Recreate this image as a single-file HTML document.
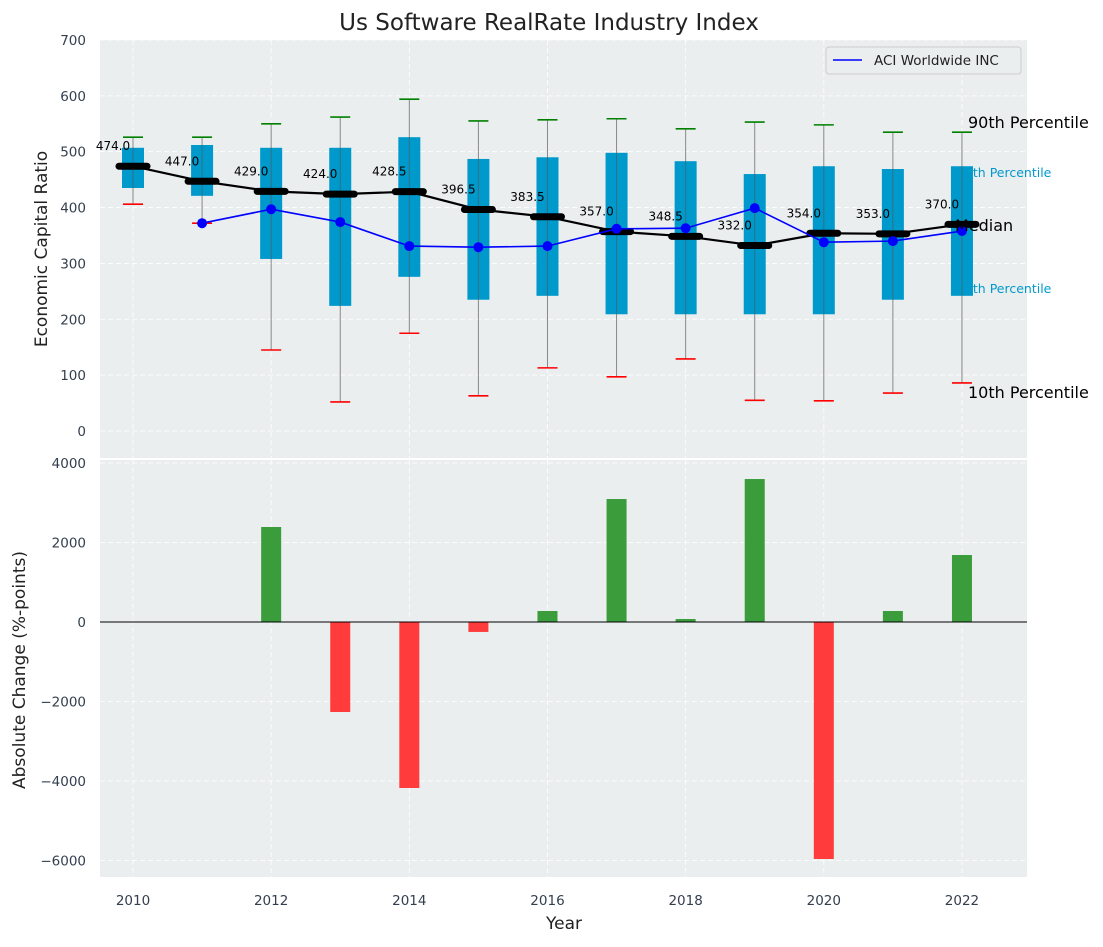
<!DOCTYPE html>
<html><head><meta charset="utf-8"><style>
body{margin:0;background:#fff;}
svg{font-family:"DejaVu Sans","Liberation Sans",sans-serif;}
</style></head><body>
<svg id="c" width="1103" height="942" xmlns="http://www.w3.org/2000/svg"></svg>
<script>
const years=[2010,2011,2012,2013,2014,2015,2016,2017,2018,2019,2020,2021,2022];
const p90=[526,526,550,562,594,555,557,559,541,553,548,535,535];
const q3=[507,512,507,507,526,487,490,498,483,460,474,469,474];
const medians=[474,447,429,424,428.5,396.5,383.5,357,348.5,332,354,353,370];
const q1=[435,421,308,224,276,235,242,209,209,209,209,235,242];
const p10=[406,372,145,52,175,63,113,97,129,55,54,68,86];
const aci=[null,372,397,374,331,329,331,362,363,399,338,340,358];
const changes=[0,0,2390,-2264,-4176,-250,277,3094,75,3597,-5962,277,1685];
const topTicks=[0,100,200,300,400,500,600,700];
const botTicks=[-6000,-4000,-2000,0,2000,4000];
const xTicks=[2010,2012,2014,2016,2018,2020,2022];

const NS="http://www.w3.org/2000/svg",svg=document.getElementById('c');
function el(t,a,p){const e=document.createElementNS(NS,t);for(const k in a)e.setAttribute(k,a[k]);(p||svg).appendChild(e);return e;}
const L=100,R=1027,T1=40,B1=458,T2=460,B2=877;
const x=v=>133+(v-2010)*69.08;
const y1=v=>431-v*0.5586;
const y2=v=>622-v*79.5/2000;

let g=el('rect',{x:L,y:T1,width:R-L,height:B1-T1,fill:'#eaeeef'});

g=el('rect',{x:L,y:T2,width:R-L,height:B2-T2,fill:'#eaeeef'});


xTicks.forEach(t=>{
 el('line',{x1:x(t),x2:x(t),y1:T1,y2:B1,stroke:'#fff','stroke-dasharray':'5,3','stroke-width':0.8});
 el('line',{x1:x(t),x2:x(t),y1:T2,y2:B2,stroke:'#fff','stroke-dasharray':'5,3','stroke-width':0.8});
 const tx=el('text',{x:x(t),y:905,'font-size':13.5,fill:'#333f4f','text-anchor':'middle'});tx.textContent=t;
 
});
topTicks.forEach(t=>{
 el('line',{x1:L,x2:R,y1:y1(t),y2:y1(t),stroke:'#fff','stroke-dasharray':'5,3','stroke-width':0.8});
 const tx=el('text',{x:86,y:y1(t)+5,'font-size':13.5,fill:'#333f4f','text-anchor':'end'});tx.textContent=t;
 
});
botTicks.forEach(t=>{
 el('line',{x1:L,x2:R,y1:y2(t),y2:y2(t),stroke:'#fff','stroke-dasharray':'5,3','stroke-width':0.8});
 const tx=el('text',{x:86,y:y2(t)+5,'font-size':13.5,fill:'#333f4f','text-anchor':'end'});tx.textContent=(t<0?'\u2212'+(-t):t);
 
});

// cyan labels first (boxes drawn over them)
[['75th Percentile',957,177],['25th Percentile',957,293]].forEach(d=>{
 let t=el('text',{x:d[1],y:d[2],'font-size':12.5,fill:'#0099cc'});t.textContent=d[0];
 
});

years.forEach((yr,i)=>{
 const cx=x(yr);
 let w=el('line',{x1:cx,x2:cx,y1:y1(p90[i]),y2:y1(p10[i]),stroke:'#888','stroke-width':1});
 
 let b=el('rect',{x:cx-11,y:y1(q3[i]),width:22,height:y1(q1[i])-y1(q3[i]),fill:'#0099cc'});
 
 el('line',{x1:cx,x2:cx,y1:y1(q3[i]),y2:y1(q1[i]),stroke:'#555','stroke-width':1,opacity:0.6});
 let a=el('line',{x1:cx-10,x2:cx+10,y1:y1(p90[i]),y2:y1(p90[i]),stroke:'green','stroke-width':1.6});
 
 a=el('line',{x1:cx-10,x2:cx+10,y1:y1(p10[i]),y2:y1(p10[i]),stroke:'red','stroke-width':1.6});
 
});
let pts=years.map((yr,i)=>x(yr)+','+y1(medians[i])).join(' ');
let ml=el('polyline',{points:pts,fill:'none',stroke:'#000','stroke-width':2.2});

years.forEach((yr,i)=>{
 let m=el('line',{x1:x(yr)-14,x2:x(yr)+14,y1:y1(medians[i]),y2:y1(medians[i]),stroke:'#000','stroke-width':7,'stroke-linecap':'round'});
 
});
let ap=[];years.forEach((yr,i)=>{if(aci[i]!=null)ap.push(x(yr)+','+y1(aci[i]));});
let al=el('polyline',{points:ap.join(' '),fill:'none',stroke:'#0000ff','stroke-width':1.6});

years.forEach((yr,i)=>{if(aci[i]==null)return;
 let c=el('circle',{cx:x(yr),cy:y1(aci[i]),r:5,fill:'#0000ff'});
 
});
years.forEach((yr,i)=>{
 let t=el('text',{x:x(yr)-20,y:y1(medians[i])-16,'font-size':12,fill:'#000','text-anchor':'middle'});
 t.textContent=medians[i].toFixed(1);
 
});
[['90th Percentile',968,128],['Median',955,231],['10th Percentile',968,398]].forEach(d=>{
 let t=el('text',{x:d[1],y:d[2],'font-size':16,fill:'#000'});t.textContent=d[0];
 
});

let lg=el('g',{});
el('rect',{x:826,y:47,width:195,height:27,rx:3,fill:'#eaeeef',stroke:'#ccc'},lg);
el('line',{x1:833,x2:862,y1:60,y2:60,stroke:'#0000ff','stroke-width':1.6},lg);
let lt=el('text',{x:874,y:65,'font-size':13.5,fill:'#222'},lg);lt.textContent='ACI Worldwide INC';

years.forEach((yr,i)=>{
 const v=changes[i];if(v===0)return;
 const r=el('rect',{x:x(yr)-10,y:Math.min(y2(v),y2(0)),width:20,height:Math.abs(y2(v)-y2(0)),fill:v>0?'#3a9c3a':'#ff3b3b'});
 
});
el('line',{x1:L,x2:R,y1:y2(0),y2:y2(0),stroke:'#000','stroke-width':1});

let t=el('text',{x:549,y:30,'font-size':23,fill:'#222','text-anchor':'middle'});t.textContent='Us Software RealRate Industry Index';

t=el('text',{x:564,y:929,'font-size':17,fill:'#222','text-anchor':'middle'});t.textContent='Year';

t=el('text',{x:0,y:0,'font-size':17,fill:'#222','text-anchor':'middle',transform:'translate(47,249) rotate(-90)'});t.textContent='Economic Capital Ratio';

t=el('text',{x:0,y:0,'font-size':17,fill:'#222','text-anchor':'middle',transform:'translate(25,670) rotate(-90)'});t.textContent='Absolute Change (%-points)';

</script>
</body></html>
